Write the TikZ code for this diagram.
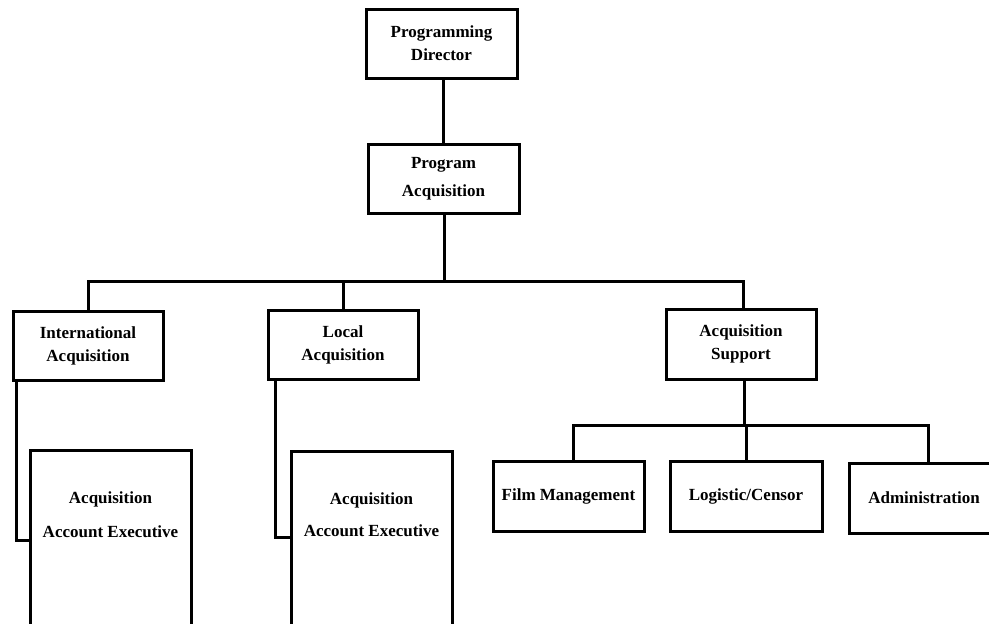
\documentclass[tikz,border=0pt]{standalone}
\usepackage{fontspec}
\setmainfont{Liberation Serif}
\begin{document}
\begin{tikzpicture}[x=1pt,y=-1pt,line width=3pt,
  unit/.style={draw,rectangle,inner sep=0pt,align=center,font=\fontsize{17}{23}\selectfont\bfseries,minimum width=150pt,minimum height=69pt},
  exebox/.style={draw,rectangle,anchor=north,inner xsep=0pt,inner ysep=41pt,align=center,font=\fontsize{17}{23}\selectfont\bfseries,minimum width=161pt,text depth=150pt}]
            \useasboundingbox (0,0) rectangle (989,624);
            \clip (0,0) rectangle (989,624);
            \node[unit,minimum width=151pt] (director) at (441.5,43.5) {Programming\\Director};
            \node[unit,minimum width=151pt] (progacq) at (443.5,179) {Program\\[5pt]Acquisition};
            \node[unit] (intacq) at (88,345.5) {International\\Acquisition};
            \node[unit] (locacq) at (343,345) {Local\\Acquisition};
            \node[unit,minimum height=70pt] (acqsup) at (741,344) {Acquisition\\Support};
            \node[unit,minimum width=151pt,minimum height=70pt] (filmmgt) at (568.5,496) {Film Management};
            \node[unit,minimum width=152pt,minimum height=70pt] (logcen) at (746,496) {Logistic/Censor};
            \node[unit,minimum height=70pt] (admin) at (924,498) {Administration};
            \node[exebox] (intexec) at (110.5,449) {Acquisition\\[11pt]Account Executive};
            \node[exebox] (locexec) at (371.5,450) {Acquisition\\[9pt]Account Executive};
            \coordinate (topbus) at (444,281);
            \coordinate (supbus) at (744,425);
            \draw (progacq.north) -- (progacq.north |- director.south);
            \draw (topbus |- progacq.south) -- (topbus);
            \draw (intacq.north) |- (topbus) -| ([xshift=2pt]acqsup.north);
            \draw (locacq.north) -- (locacq.north |- topbus);
            \draw (supbus |- acqsup.south) -- (supbus);
            \draw ([xshift=4.5pt]filmmgt.north) |- (supbus) -| ([xshift=4pt]admin.north);
            \draw (logcen.north) -- (logcen.north |- supbus);
            \draw ([xshift=5pt]intacq.south west) |- ([yshift=-91pt]intexec.north west);
            \draw ([xshift=9pt]locacq.south west) |- ([yshift=-87pt]locexec.north west);
\end{tikzpicture}
\end{document}
